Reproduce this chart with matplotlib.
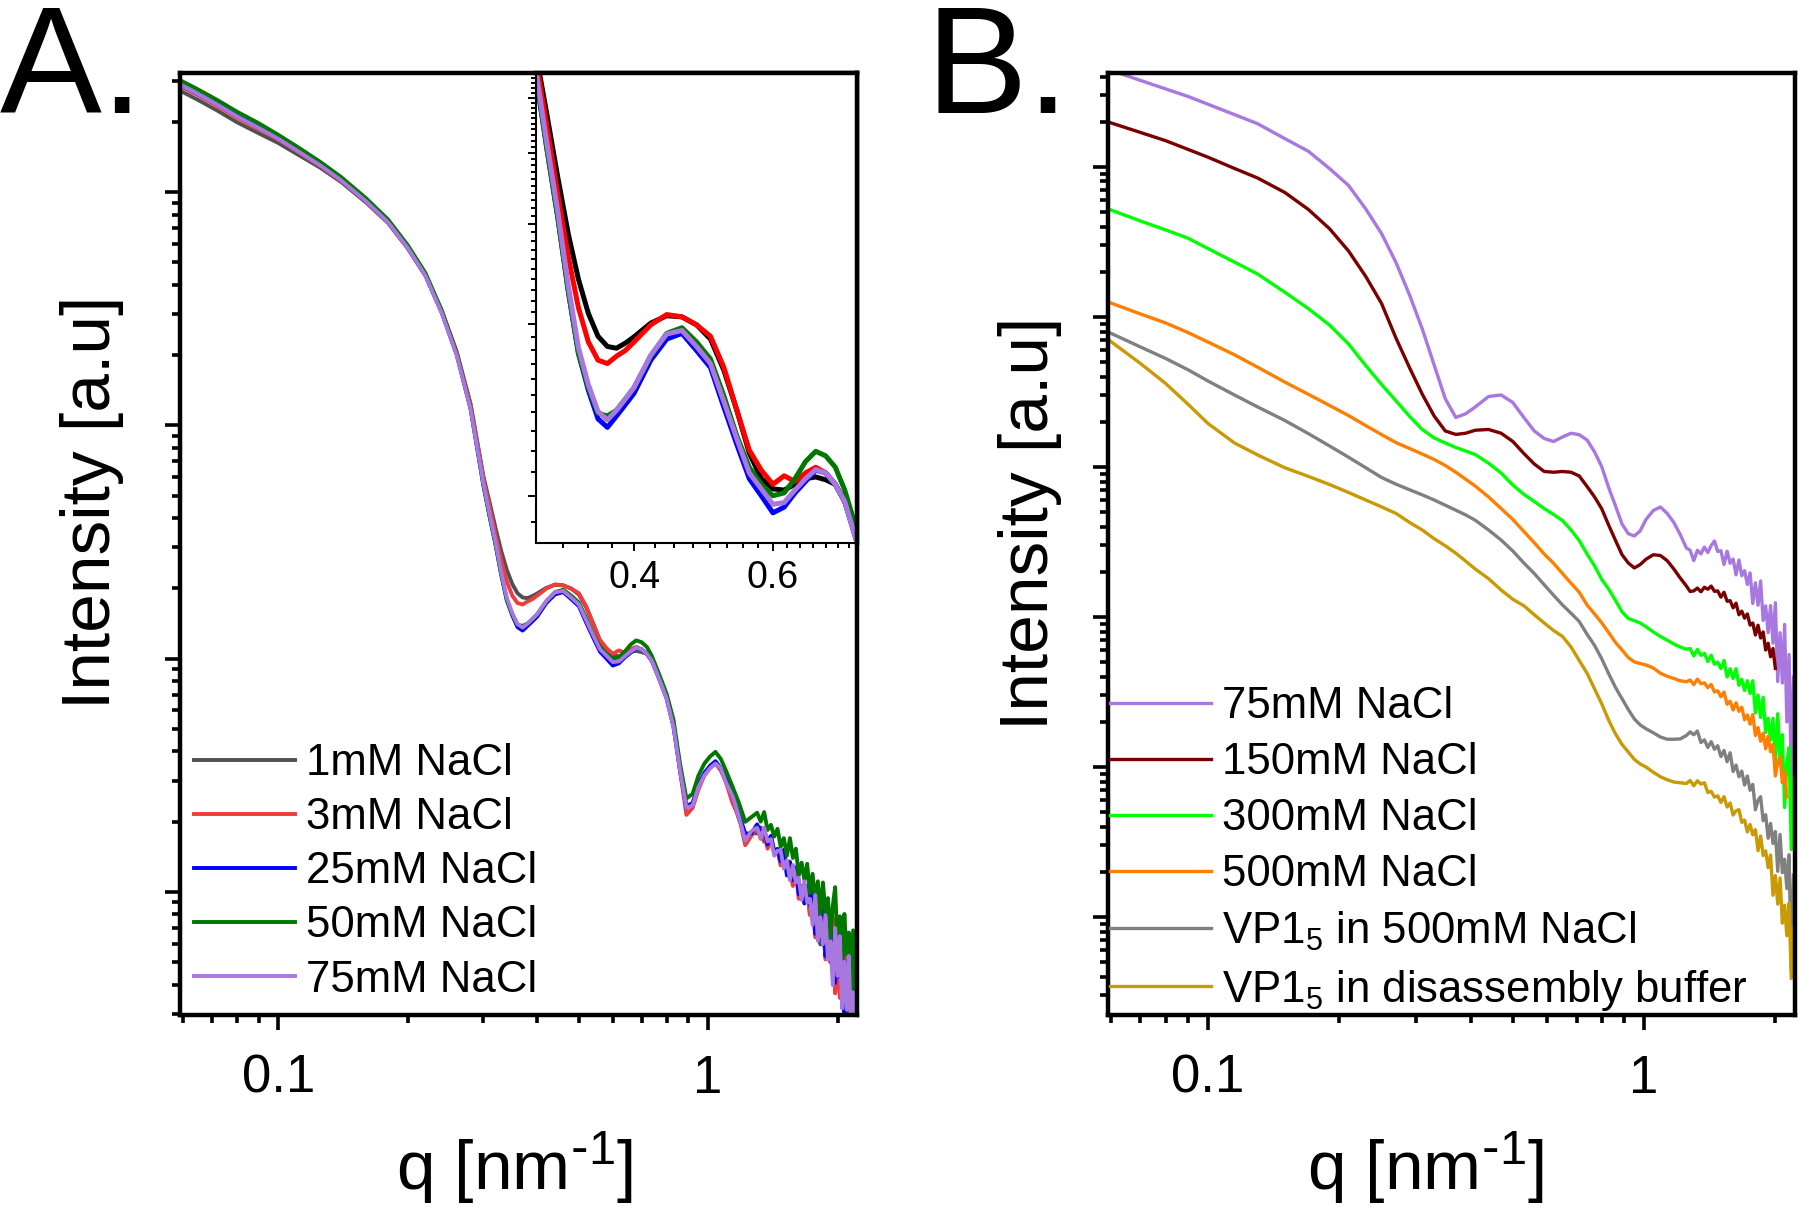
import numpy as np
import matplotlib
matplotlib.use("Agg")
import matplotlib.pyplot as plt
from matplotlib.ticker import FixedLocator, FixedFormatter, NullFormatter, LogLocator

plt.rcParams['font.family'] = ['Liberation Sans', 'DejaVu Sans']
plt.rcParams['mathtext.default'] = 'regular'

nan = float('nan')

# ---------------- Panel A data (log10 intensity, a.u.) ----------------
q_A = [0.059, 0.065, 0.072, 0.080, 0.090, 0.100, 0.110, 0.125, 0.140, 0.160,
       0.180, 0.200, 0.220, 0.240, 0.260, 0.280, 0.300, 0.310, 0.320, 0.330,
       0.340, 0.350, 0.360, 0.370, 0.380, 0.390, 0.400, 0.420, 0.440, 0.460,
       0.480, 0.500, 0.520, 0.540, 0.560, 0.580, 0.600, 0.620, 0.640, 0.660,
       0.680, 0.700, 0.720, 0.740, 0.770, 0.800, 0.830, 0.860, 0.890, 0.920,
       0.950, 0.980, 1.010, 1.040, 1.070, 1.100, 1.140, 1.180, 1.220, 1.260,
       1.300, 1.325, 1.350, 1.375, 1.400, 1.425, 1.450, 1.475, 1.500, 1.525,
       1.550, 1.575, 1.600, 1.625, 1.650, 1.675, 1.700, 1.725, 1.750, 1.775,
       1.800, 1.825, 1.850, 1.875, 1.900, 1.925, 1.950, 1.975, 2.000, 2.025,
       2.050, 2.075, 2.100, 2.125, 2.150, 2.175, 2.200]

logI_A_1mM = [3.435, 3.395, 3.350, 3.300, 3.252, 3.210, 3.165, 3.105, 3.043, 2.955,
              2.867, 2.758, 2.640, 2.485, 2.310, 2.090, 1.780, 1.670, 1.560, 1.460,
              1.380, 1.320, 1.280, 1.262, 1.259, 1.268, 1.279, 1.303, 1.316, 1.314,
              1.300, 1.275, 1.220, 1.150, 1.075, 1.030, 1.012, 1.010, 1.020, 1.030,
              1.033, 1.028, 1.020, 0.990, 0.920, 0.840, 0.720, 0.530, 0.370, 0.380,
              0.450, 0.500, 0.535, 0.550, 0.530, 0.490, 0.400, 0.310, 0.240, 0.250,
              0.251, 0.276, 0.215, 0.231, 0.232, 0.167, 0.182, 0.120, 0.170, 0.105,
              0.130, 0.030, 0.100, 0.005, 0.025, -0.045, 0.025, -0.095, -0.034, -0.149,
              -0.030, -0.226, -0.152, -0.280, -0.138, -0.266, -0.115, -0.425, -0.225, -0.430,
              -0.200, -0.525, -0.355, -0.545, -0.375, -0.595, -0.350]

logI_A_3mM = [3.455, 3.415, 3.370, 3.320, 3.270, 3.225, 3.178, 3.113, 3.048, 2.960,
              2.870, 2.762, 2.645, 2.490, 2.315, 2.090, 1.770, 1.650, 1.530, 1.420,
              1.330, 1.270, 1.238, 1.232, 1.245, 1.255, 1.270, 1.300, 1.318, 1.314,
              1.300, 1.280, 1.225, 1.150, 1.080, 1.045, 1.020, 1.035, 1.025, 1.040,
              1.050, 1.040, 1.020, 0.990, 0.920, 0.840, 0.730, 0.520, 0.330, 0.360,
              0.440, 0.500, 0.530, 0.550, 0.520, 0.470, 0.380, 0.320, 0.200, 0.240,
              0.277, 0.227, 0.247, 0.185, 0.219, 0.169, 0.178, 0.113, 0.170, 0.080,
              0.105, 0.025, 0.085, -0.030, 0.020, -0.045, 0.020, -0.100, -0.062, -0.195,
              -0.058, -0.191, -0.099, -0.290, -0.175, -0.303, -0.110, -0.435, -0.265, -0.455,
              -0.285, -0.505, -0.260, -0.480, -0.355, -0.635, -0.480]

logI_A_25mM = [3.460, 3.420, 3.377, 3.328, 3.278, 3.230, 3.183, 3.117, 3.052, 2.962,
               2.872, 2.762, 2.642, 2.482, 2.302, 2.070, 1.740, 1.610, 1.490, 1.360,
               1.250, 1.185, 1.135, 1.120, 1.140, 1.160, 1.180, 1.238, 1.275, 1.285,
               1.255, 1.225, 1.155, 1.090, 1.030, 1.000, 0.970, 0.980, 1.005, 1.025,
               1.045, 1.040, 1.020, 0.990, 0.910, 0.830, 0.710, 0.520, 0.360, 0.380,
               0.460, 0.510, 0.540, 0.560, 0.530, 0.490, 0.410, 0.330, 0.250, 0.250,
               0.289, 0.254, 0.268, 0.203, 0.240, 0.175, 0.184, 0.131, 0.180, 0.070,
               0.125, 0.050, 0.105, -0.010, 0.025, -0.050, 0.025, -0.060, 0.016, -0.180,
               -0.070, -0.203, -0.075, -0.275, -0.178, -0.297, -0.170, -0.390, -0.145, -0.365,
               -0.240, -0.520, -0.365, -0.285, -0.535, -0.410, -0.645]

logI_A_50mM = [3.480, 3.440, 3.395, 3.345, 3.295, 3.245, 3.197, 3.130, 3.064, 2.973,
               2.882, 2.772, 2.652, 2.492, 2.310, 2.075, 1.745, 1.610, 1.490, 1.360,
               1.250, 1.190, 1.145, 1.140, 1.150, 1.170, 1.190, 1.245, 1.285, 1.295,
               1.270, 1.240, 1.175, 1.105, 1.050, 1.020, 1.000, 1.005, 1.030, 1.060,
               1.078, 1.070, 1.050, 1.010, 0.930, 0.850, 0.740, 0.550, 0.400, 0.420,
               0.500, 0.550, 0.580, 0.600, 0.570, 0.520, 0.450, 0.380, 0.300, 0.320,
               0.339, 0.301, 0.342, 0.265, 0.287, 0.237, 0.270, 0.193, 0.230, 0.155,
               0.230, 0.145, 0.185, 0.070, 0.125, 0.050, 0.120, -0.005, 0.077, -0.047,
               0.045, -0.097, 0.040, -0.097, -0.027, -0.200, -0.060, 0.020, -0.230, -0.105,
               -0.340, -0.095, -0.270, -0.175, -0.425, -0.165, -0.415]

logI_A_75mM = [3.460, 3.420, 3.375, 3.325, 3.275, 3.228, 3.180, 3.115, 3.050, 2.960,
               2.870, 2.760, 2.640, 2.480, 2.300, 2.070, 1.750, 1.620, 1.500, 1.370,
               1.260, 1.195, 1.148, 1.133, 1.150, 1.170, 1.190, 1.247, 1.284, 1.290,
               1.262, 1.232, 1.165, 1.100, 1.040, 1.012, 0.985, 0.988, 1.010, 1.030,
               1.046, 1.040, 1.020, 0.990, 0.910, 0.830, 0.710, 0.520, 0.360, 0.370,
               0.450, 0.500, 0.530, 0.550, 0.530, 0.470, 0.410, 0.320, 0.220, 0.260,
               0.275, 0.231, 0.275, 0.216, 0.226, 0.155, 0.176, 0.177, 0.100, 0.135,
               0.050, 0.115, 0.040, 0.060, -0.035, 0.045, -0.045, -0.030, -0.142, -0.014,
               -0.210, -0.109, -0.224, -0.100, -0.291, -0.212, -0.400, -0.155, -0.360, -0.190,
               -0.500, -0.300, -0.505, -0.275, -0.600, -0.430, -0.620]

labels_A = ['1mM NaCl', '3mM NaCl', '25mM NaCl', '50mM NaCl', '75mM NaCl']

# ---------------- Panel B data (log10 intensity, a.u.) ----------------
q_B = [0.059, 0.070, 0.080, 0.090, 0.100, 0.115, 0.130, 0.150, 0.170, 0.190,
       0.210, 0.230, 0.250, 0.270, 0.290, 0.310, 0.330, 0.350, 0.370, 0.390,
       0.410, 0.440, 0.470, 0.500, 0.530, 0.560, 0.590, 0.620, 0.650, 0.680,
       0.710, 0.740, 0.770, 0.800, 0.830, 0.860, 0.890, 0.920, 0.950, 0.980,
       1.010, 1.050, 1.090, 1.130, 1.170, 1.210, 1.250,
       1.275, 1.300, 1.325, 1.350, 1.375, 1.400, 1.425, 1.450, 1.475, 1.500,
       1.525, 1.550, 1.575, 1.600, 1.625, 1.650, 1.675, 1.700, 1.725, 1.750,
       1.775, 1.800, 1.825, 1.850, 1.875, 1.900, 1.925, 1.950, 1.975, 2.000,
       2.025, 2.050, 2.075, 2.100, 2.125, 2.150, 2.175, 2.200]

logI_B_75mM = [5.650, 5.577, 5.520, 5.470, 5.418, 5.349, 5.288, 5.189, 5.104, 4.989,
               4.877, 4.720, 4.556, 4.361, 4.145, 3.920, 3.680, 3.455, 3.330, 3.355,
               3.400, 3.470, 3.480, 3.430, 3.330, 3.240, 3.190, 3.170, 3.200, 3.225,
               3.215, 3.180, 3.100, 3.000, 2.860, 2.740, 2.620, 2.555, 2.540, 2.575,
               2.650, 2.710, 2.733, 2.690, 2.630, 2.550, 2.460,
               2.445, 2.376, 2.445, 2.421, 2.466, 2.430, 2.476, 2.507, 2.437, 2.442,
               2.350, 2.438, 2.358, 2.386, 2.281, 2.380, 2.275, 2.308, 2.217, 2.294,
               2.090, 2.228, 2.078, 2.240, 1.977, 2.074, 1.895, 2.076, 1.825, 2.095,
               1.570, 1.895, 1.560, 1.950, 1.300, 1.750, 0.900, 1.600]

logI_B_150mM = [5.300, 5.230, 5.175, 5.117, 5.065, 4.990, 4.926, 4.830, 4.716, 4.588,
                4.440, 4.270, 4.090, 3.857, 3.660, 3.485, 3.340, 3.240, 3.217, 3.225,
                3.245, 3.250, 3.225, 3.170, 3.090, 3.020, 2.970, 2.965, 2.970, 2.965,
                2.940, 2.870, 2.800, 2.720, 2.610, 2.510, 2.415, 2.360, 2.327, 2.350,
                2.385, 2.415, 2.410, 2.375, 2.320, 2.260, 2.207,
                2.170, 2.174, 2.193, 2.168, 2.198, 2.185, 2.206, 2.171, 2.174, 2.132,
                2.165, 2.105, 2.109, 2.061, 2.092, 2.015, 2.039, 1.992, 2.020, 1.946,
                1.960, 1.880, 1.945, 1.860, 1.900, 1.780, 1.825, 1.735, 1.790, 1.657,
                nan, nan, nan, nan, nan, nan, nan, nan]

logI_B_300mM = [4.720, 4.640, 4.580, 4.525, 4.456, 4.366, 4.286, 4.165, 4.055, 3.946,
                3.820, 3.676, 3.550, 3.440, 3.337, 3.250, 3.194, 3.160, 3.130, 3.106,
                3.083, 3.025, 2.960, 2.880, 2.818, 2.770, 2.723, 2.683, 2.643, 2.580,
                2.510, 2.420, 2.340, 2.250, 2.185, 2.110, 2.035, 1.990, 1.975, 1.960,
                1.935, 1.900, 1.870, 1.845, 1.820, 1.800, 1.785,
                1.790, 1.740, 1.784, 1.744, 1.758, 1.703, 1.745, 1.685, 1.699, 1.656,
                1.710, 1.600, 1.655, 1.590, 1.655, 1.545, 1.585, 1.510, 1.575, 1.490,
                1.575, 1.360, 1.480, 1.330, 1.465, 1.230, 1.325, 1.180, 1.325, 1.030,
                1.355, 1.060, 1.215, 0.730, 1.030, 1.130, 0.450, 0.930]

logI_B_500mM = [4.100, 4.020, 3.960, 3.896, 3.833, 3.748, 3.665, 3.566, 3.484, 3.410,
                3.343, 3.276, 3.216, 3.162, 3.123, 3.086, 3.050, 3.010, 2.965, 2.918,
                2.873, 2.800, 2.723, 2.650, 2.570, 2.495, 2.420, 2.358, 2.290, 2.225,
                2.165, 2.080, 2.020, 1.960, 1.895, 1.830, 1.780, 1.730, 1.700, 1.690,
                1.680, 1.660, 1.625, 1.605, 1.590, 1.575, 1.568,
                1.580, 1.549, 1.586, 1.555, 1.561, 1.529, 1.550, 1.500, 1.508, 1.468,
                1.500, 1.418, 1.439, 1.380, 1.428, 1.371, 1.398, 1.315, 1.347, 1.285,
                1.350, 1.210, 1.263, 1.172, 1.225, 1.122, 1.205, 1.102, 1.150, 0.940,
                1.030, 1.070, 0.895, 0.970, 0.800, nan, nan, nan]

logI_B_VP500 = [3.900, 3.800, 3.723, 3.648, 3.573, 3.480, 3.400, 3.310, 3.222, 3.140,
                3.065, 2.995, 2.930, 2.885, 2.848, 2.814, 2.780, 2.745, 2.712, 2.680,
                2.645, 2.580, 2.513, 2.440, 2.360, 2.290, 2.215, 2.145, 2.080, 2.025,
                1.970, 1.885, 1.810, 1.720, 1.620, 1.530, 1.455, 1.383, 1.320, 1.280,
                1.255, 1.228, 1.200, 1.185, 1.185, 1.187, 1.210,
                1.234, 1.215, 1.240, 1.163, 1.181, 1.130, 1.169, 1.118, 1.142, 1.070,
                1.110, 1.035, 1.095, 0.970, 1.013, 0.935, 0.973, 0.880, 0.940, 0.845,
                0.884, 0.715, 0.778, 0.802, 0.642, 0.682, 0.525, 0.624, 0.490, 0.570,
                0.305, 0.550, 0.295, 0.385, 0.190, 0.415, -0.350, 0.280]

logI_B_VPdis = [3.850, 3.690, 3.556, 3.418, 3.290, 3.160, 3.080, 2.995, 2.937, 2.883,
                2.830, 2.780, 2.734, 2.690, 2.630, 2.580, 2.522, 2.475, 2.425, 2.372,
                2.320, 2.255, 2.180, 2.118, 2.075, 2.015, 1.960, 1.910, 1.870, 1.800,
                1.710, 1.625, 1.520, 1.420, 1.310, 1.220, 1.150, 1.100, 1.050, 1.020,
                1.000, 0.965, 0.935, 0.915, 0.900, 0.895, 0.890,
                0.910, 0.875, 0.908, 0.886, 0.895, 0.830, 0.838, 0.799, 0.808, 0.764,
                0.802, 0.733, 0.760, 0.680, 0.708, 0.716, 0.631, 0.646, 0.567, 0.617,
                0.548, 0.582, 0.442, 0.540, 0.410, 0.441, 0.329, 0.413, 0.145, 0.276,
                0.086, 0.260, -0.041, 0.078, -0.125, 0.092, -0.410, -0.074]

labels_B = ['75mM NaCl', '150mM NaCl', '300mM NaCl', '500mM NaCl',
            'VP1$_5$ in 500mM NaCl', 'VP1$_5$ in disassembly buffer']

# ---------------- styles ----------------
colors_A_main = ['#505050', '#f03c3c', '#0000ff', '#007800', '#a877e0']
colors_A_inset = ['#000000', '#ff0000', '#0000ff', '#007800', '#a877e0']
colors_B = ['#a877e0', '#7a0000', '#00ff00', '#ff7f00', '#808080', '#c99a06']

SPINE_LW = 3.2
TICK_FS = 38
LABEL_FS = 50
LEG_FS = 31.5

fig = plt.figure(figsize=(18, 12.07), dpi=100)


def style_main(ax):
    ax.set_xscale('log')
    ax.set_yscale('log')
    ax.set_xlim(0.059, 2.22)
    for s in ax.spines.values():
        s.set_linewidth(SPINE_LW)
    ax.xaxis.set_major_locator(FixedLocator([0.1, 1.0]))
    ax.xaxis.set_major_formatter(FixedFormatter(['0.1', '1']))
    ax.xaxis.set_minor_locator(LogLocator(base=10, subs=np.arange(2, 10)))
    ax.xaxis.set_minor_formatter(NullFormatter())
    ax.yaxis.set_major_locator(LogLocator(base=10, numticks=20))
    ax.yaxis.set_minor_locator(LogLocator(base=10, subs=np.arange(2, 10), numticks=20))
    ax.yaxis.set_major_formatter(NullFormatter())
    ax.yaxis.set_minor_formatter(NullFormatter())
    ax.tick_params(which='major', direction='out', length=11, width=2.6,
                   labelsize=TICK_FS, pad=17, top=False, right=False)
    ax.tick_params(which='minor', direction='out', length=5.8, width=2.6,
                   top=False, right=False)


# ---------------- Panel A ----------------
axA = fig.add_axes([0.1, 0.1591, 0.3761, 0.7805])
series_A = [logI_A_1mM, logI_A_3mM, logI_A_25mM, logI_A_50mM, logI_A_75mM]
for vals, c, lab in zip(series_A, colors_A_main, labels_A):
    axA.plot(q_A, np.power(10.0, vals), color=c, lw=2.8, label=lab)
style_main(axA)
axA.set_ylim(10 ** -0.528, 10 ** 3.511)
axA.legend(loc='lower left', bbox_to_anchor=(0.0, 0.0), frameon=False,
           fontsize=LEG_FS, handlelength=2.3, handletextpad=0.25,
           labelspacing=0.3, borderpad=0.33, borderaxespad=0.0)

# inset
axI = fig.add_axes([0.2978, 0.5501, 0.1783, 0.3894])
for vals, c in zip(series_A, colors_A_inset):
    axI.plot(q_A, np.power(10.0, vals), color=c, lw=3.6)
axI.set_xscale('log')
axI.set_yscale('log')
axI.set_xlim(0.3004, 0.767)
axI.set_ylim(10 ** 0.917, 10 ** 1.742)
axI.xaxis.set_major_locator(FixedLocator([0.4, 0.6]))
axI.xaxis.set_major_formatter(FixedFormatter(['0.4', '0.6']))
axI.xaxis.set_minor_locator(FixedLocator([0.325, 0.35, 0.375, 0.425, 0.45, 0.475, 0.5,
                                          0.525, 0.55, 0.575, 0.625, 0.65, 0.675, 0.7,
                                          0.725, 0.75]))
axI.xaxis.set_minor_formatter(NullFormatter())
axI.yaxis.set_major_locator(FixedLocator([10, 20, 30, 40, 50]))
axI.yaxis.set_minor_locator(FixedLocator([9] + list(range(11, 20)) + list(range(21, 30))
                                         + list(range(31, 40)) + list(range(41, 50))
                                         + list(range(51, 56))))
axI.yaxis.set_major_formatter(NullFormatter())
axI.yaxis.set_minor_formatter(NullFormatter())
axI.tick_params(which='major', direction='out', length=6, width=1.4, labelsize=27,
                pad=6, top=False, right=False)
axI.tick_params(which='minor', direction='out', length=3.5, width=1.4,
                top=False, right=False)
axI.spines['left'].set_linewidth(1.5)
axI.spines['bottom'].set_linewidth(1.5)
axI.spines['top'].set_linewidth(SPINE_LW)
axI.spines['right'].set_linewidth(SPINE_LW)

# ---------------- Panel B ----------------
axB = fig.add_axes([0.6156, 0.1591, 0.3817, 0.7805])
series_B = [logI_B_75mM, logI_B_150mM, logI_B_300mM, logI_B_500mM, logI_B_VP500, logI_B_VPdis]
for vals, c, lab in zip(series_B, colors_B, labels_B):
    axB.plot(q_B, np.power(10.0, vals), color=c, lw=2.4, label=lab)
style_main(axB)
axB.set_ylim(10 ** -0.653, 10 ** 5.627)
axB.legend(loc='lower left', bbox_to_anchor=(0.0, 0.0), frameon=False,
           fontsize=LEG_FS, handlelength=2.3, handletextpad=0.25,
           labelspacing=0.34, borderpad=0.05, borderaxespad=0.0)

# ---------------- labels ----------------
xlabel_txt = r'q [nm$^{\text{-}1}$]'
fig.text(0.0511, 0.584, 'Intensity [a.u]', rotation=90, ha='center', va='center',
         fontsize=LABEL_FS)
fig.text(0.5722, 0.5667, 'Intensity [a.u]', rotation=90, ha='center', va='center',
         fontsize=LABEL_FS)
fig.text(0.2861, 0.001, xlabel_txt, ha='center', va='bottom', fontsize=LABEL_FS)
fig.text(0.7922, 0.001, xlabel_txt, ha='center', va='bottom', fontsize=LABEL_FS)
fig.text(0.0, 0.9064, 'A.', ha='left', va='baseline', fontsize=110)
fig.text(0.5144, 0.9064, 'B.', ha='left', va='baseline', fontsize=110)

fig.savefig('out.png', dpi=100)
